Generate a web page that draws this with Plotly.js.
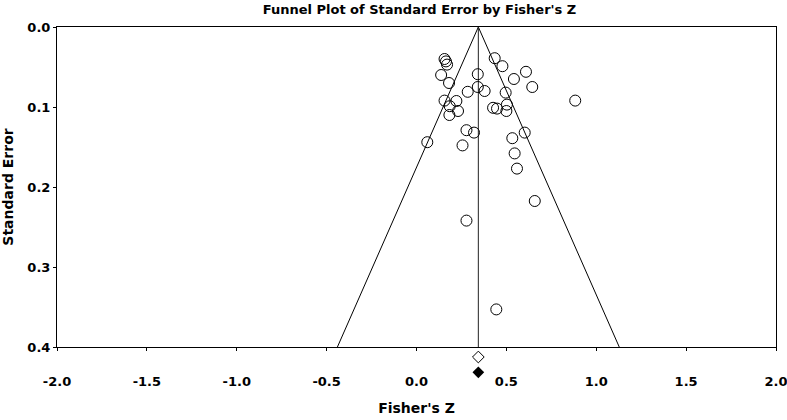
<!DOCTYPE html>
<html>
<head>
<meta charset="utf-8">
<script src="https://cdn.plot.ly/plotly-3.0.1.min.js"></script>
<style>html,body{margin:0;padding:0;background:#fff;}#chart{width:787px;height:420px;}</style>
</head>
<body>
<div id="chart"></div>
<script>
// Study effect sizes (Fisher's Z) and their standard errors
const fisherZ = [0.156, 0.164, 0.170, 0.435, 0.478, 0.609, 0.137, 0.341, 0.542, 0.181,
                 0.644, 0.341, 0.285, 0.379, 0.496, 0.883, 0.156, 0.222, 0.185, 0.231,
                 0.183, 0.426, 0.448, 0.503, 0.500, 0.278, 0.320, 0.602, 0.060, 0.256,
                 0.533, 0.546, 0.559, 0.658, 0.278, 0.444];
const stdErr  = [0.040, 0.043, 0.047, 0.039, 0.049, 0.056, 0.060, 0.059, 0.065, 0.070,
                 0.075, 0.075, 0.081, 0.080, 0.082, 0.092, 0.092, 0.0925, 0.099, 0.105,
                 0.110, 0.101, 0.102, 0.097, 0.105, 0.129, 0.132, 0.132, 0.144, 0.148,
                 0.139, 0.158, 0.177, 0.2175, 0.242, 0.353];
// Combined effect: observed (open diamond) and second estimate (filled diamond)
const meanZ = 0.344;
const diamondZ  = [0.344, 0.344];
const diamondSE = [0.4125, 0.4316];
const seMax = 0.4;
const xTicks = [-2.0, -1.5, -1.0, -0.5, 0.0, 0.5, 1.0, 1.5, 2.0];
const yTicks = [0.0, 0.1, 0.2, 0.3, 0.4];

const fontFam = '"DejaVu Sans", Verdana, sans-serif';

// plot area: top 27px, main panel 320px tall, strip below for diamonds 33px
const plotH = 420 - 27 - 40;
const split = 33 / plotH;

const traces = [
  { // funnel (95% limits)
    x: [meanZ - 1.96 * seMax, meanZ, meanZ + 1.96 * seMax],
    y: [seMax, 0, seMax],
    mode: 'lines', type: 'scatter',
    line: {color: '#000', width: 1}, hoverinfo: 'skip'
  },
  { // mean line
    x: [meanZ, meanZ], y: [0, seMax],
    mode: 'lines', type: 'scatter',
    line: {color: '#222', width: 1}, hoverinfo: 'skip'
  },
  { // studies
    x: fisherZ, y: stdErr,
    mode: 'markers', type: 'scatter',
    marker: {symbol: 'circle-open', size: 11, color: '#000', line: {width: 1, color: '#000'}}
  },
  { // open diamond
    x: [diamondZ[0]], y: [diamondSE[0]], yaxis: 'y2',
    mode: 'markers', type: 'scatter',
    marker: {symbol: 'diamond-open', size: 9, color: '#000', line: {width: 1, color: '#000'}}
  },
  { // filled diamond
    x: [diamondZ[1]], y: [diamondSE[1]], yaxis: 'y2',
    mode: 'markers', type: 'scatter',
    marker: {symbol: 'diamond', size: 9, color: '#000'}
  }
];

const layout = {
  width: 787, height: 420,
  margin: {l: 57, r: 11, t: 27, b: 40},
  paper_bgcolor: '#fff', plot_bgcolor: '#fff',
  showlegend: false,
  font: {family: fontFam, color: '#000'},
  title: {
    text: "<b>Funnel Plot of Standard Error by Fisher's Z</b>",
    font: {family: fontFam, size: 13, color: '#000'},
    x: 0.533, xanchor: 'center', y: 0.978, yanchor: 'middle'
  },
  xaxis: {
    range: [-2, 2], tickvals: xTicks, ticktext: xTicks.map(v => '<b>' + v.toFixed(1) + '</b>'),
    showgrid: false, zeroline: false, anchor: 'y',
    showline: true, linecolor: '#000', linewidth: 1, mirror: true,
    ticks: 'outside', ticklen: 3, tickcolor: '#000',
    ticklabelstandoff: 19, ticklabeloverflow: 'allow',
    tickfont: {family: fontFam, size: 13, color: '#000'},
    title: {text: "<b>Fisher's Z</b>", font: {family: fontFam, size: 14, color: '#000'}, standoff: 15},
    automargin: false
  },
  yaxis: {
    domain: [split, 1],
    range: [0.4, 0], tickvals: yTicks, ticktext: yTicks.map(v => '<b>' + v.toFixed(1) + '</b>'),
    showgrid: false, zeroline: false,
    showline: true, linecolor: '#000', linewidth: 1, mirror: true,
    ticks: 'outside', ticklen: 3, tickcolor: '#000',
    ticklabeloverflow: 'allow',
    tickfont: {family: fontFam, size: 13, color: '#000'},
    title: {text: '<b>Standard Error</b>', font: {family: fontFam, size: 14, color: '#000'}, standoff: 10},
    automargin: false
  },
  yaxis2: {
    domain: [0, split], anchor: 'x',
    range: [seMax + 33 / 800, seMax],
    visible: false, showgrid: false, zeroline: false
  }
};

Plotly.newPlot('chart', traces, layout, {displayModeBar: false, staticPlot: true});
</script>
</body>
</html>
